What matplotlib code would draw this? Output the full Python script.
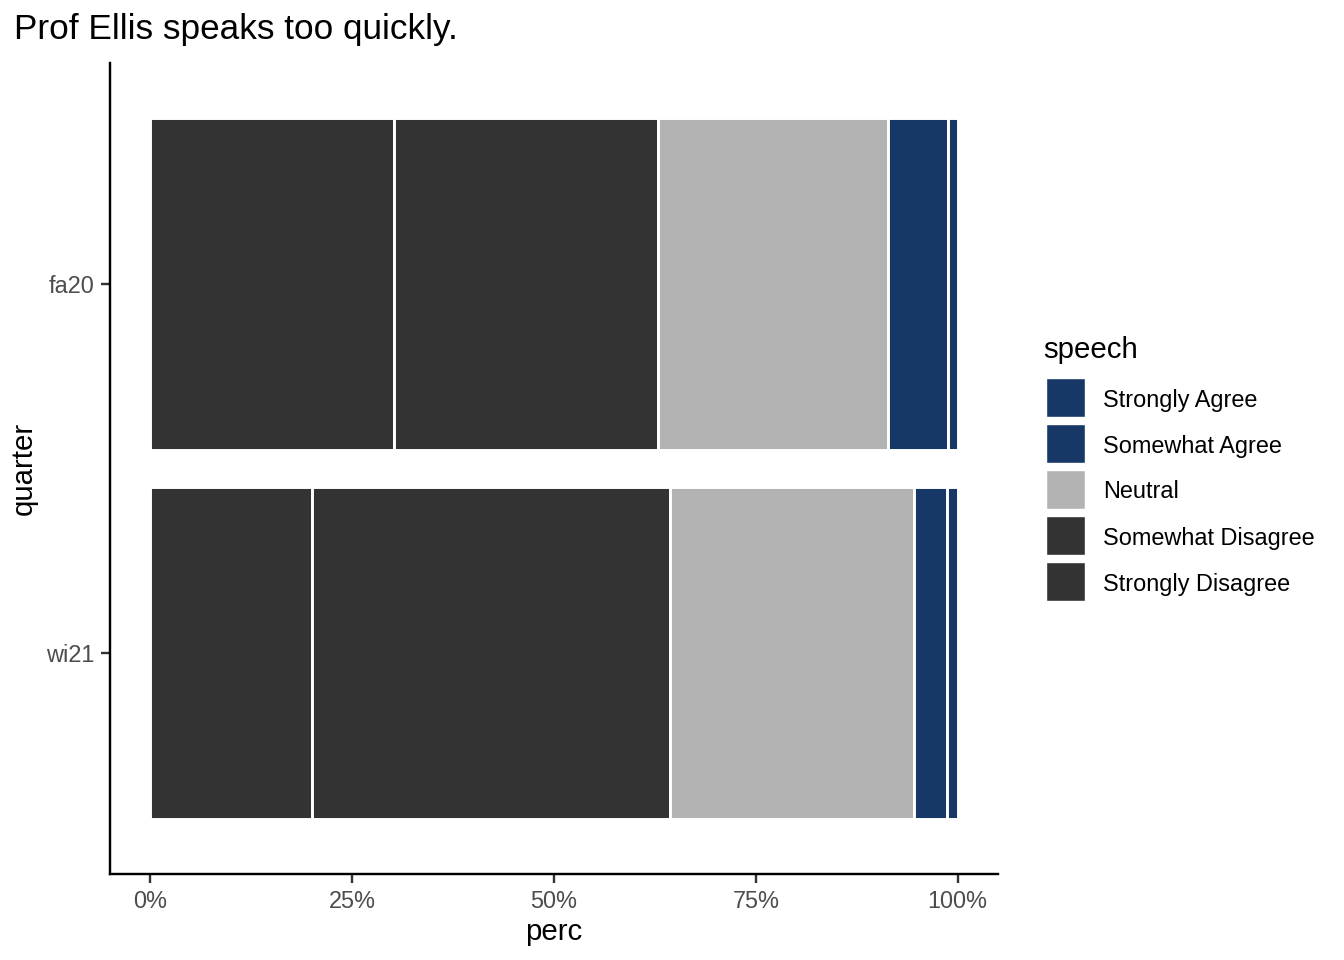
import matplotlib
matplotlib.use("Agg")
import matplotlib.pyplot as plt
from matplotlib.patches import Rectangle
from matplotlib.ticker import FuncFormatter
import numpy as np

# data (shares of responses per quarter)
quarters = ["wi21", "fa20"]
levels = ["Strongly Disagree", "Somewhat Disagree", "Neutral", "Somewhat Agree", "Strongly Agree"]
strongly_disagree = [0.2004, 0.3024]
somewhat_disagree = [0.4428, 0.3263]
neutral = [0.3024, 0.2846]
somewhat_agree = [0.0409, 0.0750]
strongly_agree = [0.0136, 0.0118]
x_ticks = [0, 0.25, 0.5, 0.75, 1.0]

series = [strongly_disagree, somewhat_disagree, neutral, somewhat_agree, strongly_agree]
colors = ["#333333", "#333333", "#B3B3B3", "#173766", "#173766"]

plt.rcParams["font.family"] = ["Liberation Sans", "DejaVu Sans"]

W, H = 1344, 960
fig = plt.figure(figsize=(7, 5), dpi=192)
ax = fig.add_axes([110 / W, 1 - 874 / H, (998 - 110) / W, (874 - 63) / H])

y = np.arange(1, len(quarters) + 1)
left = np.zeros(len(quarters))
for vals, col in zip(series, colors):
    ax.barh(y, vals, height=0.9, left=left, color=col, edgecolor="white", linewidth=1.1)
    left = left + np.array(vals)

ax.set_xlim(-0.05, 1.05)
ax.set_ylim(0.4, 2.6)
ax.set_yticks(y)
ax.set_yticklabels(quarters)
ax.set_xticks(x_ticks)
ax.xaxis.set_major_formatter(FuncFormatter(lambda v, p: f"{v * 100:.0f}%"))

for s in ["top", "right"]:
    ax.spines[s].set_visible(False)
for s in ["left", "bottom"]:
    ax.spines[s].set_linewidth(0.9)
    ax.spines[s].set_color("black")
ax.tick_params(axis="both", length=3.5, width=0.9, color="#333333",
               labelsize=8.8, labelcolor="#4D4D4D", pad=2.5)

ax.set_xlabel("perc", fontsize=11, labelpad=2)
ax.set_ylabel("quarter", fontsize=11, labelpad=3)
fig.text(14 / W, 1 - 30 / H, "Prof Ellis speaks too quickly.", fontsize=13.2,
         ha="left", va="center")

# legend drawn by hand to match the ggplot guide
fig.text(1043 / W, 1 - 350 / H, "speech", fontsize=11, ha="left", va="center")
row_y = [398, 444, 490, 536, 582]
for ry, lab, col in zip(row_y, levels[::-1], colors[::-1]):
    fig.add_artist(Rectangle((1046 / W, 1 - (ry + 20) / H), 40 / W, 40 / H,
                             transform=fig.transFigure, facecolor=col,
                             edgecolor="white", linewidth=0.9))
    fig.text(1103 / W, 1 - (ry + 2) / H, lab, fontsize=8.8, ha="left", va="center")

fig.savefig("out.png", dpi=192, facecolor="white")
